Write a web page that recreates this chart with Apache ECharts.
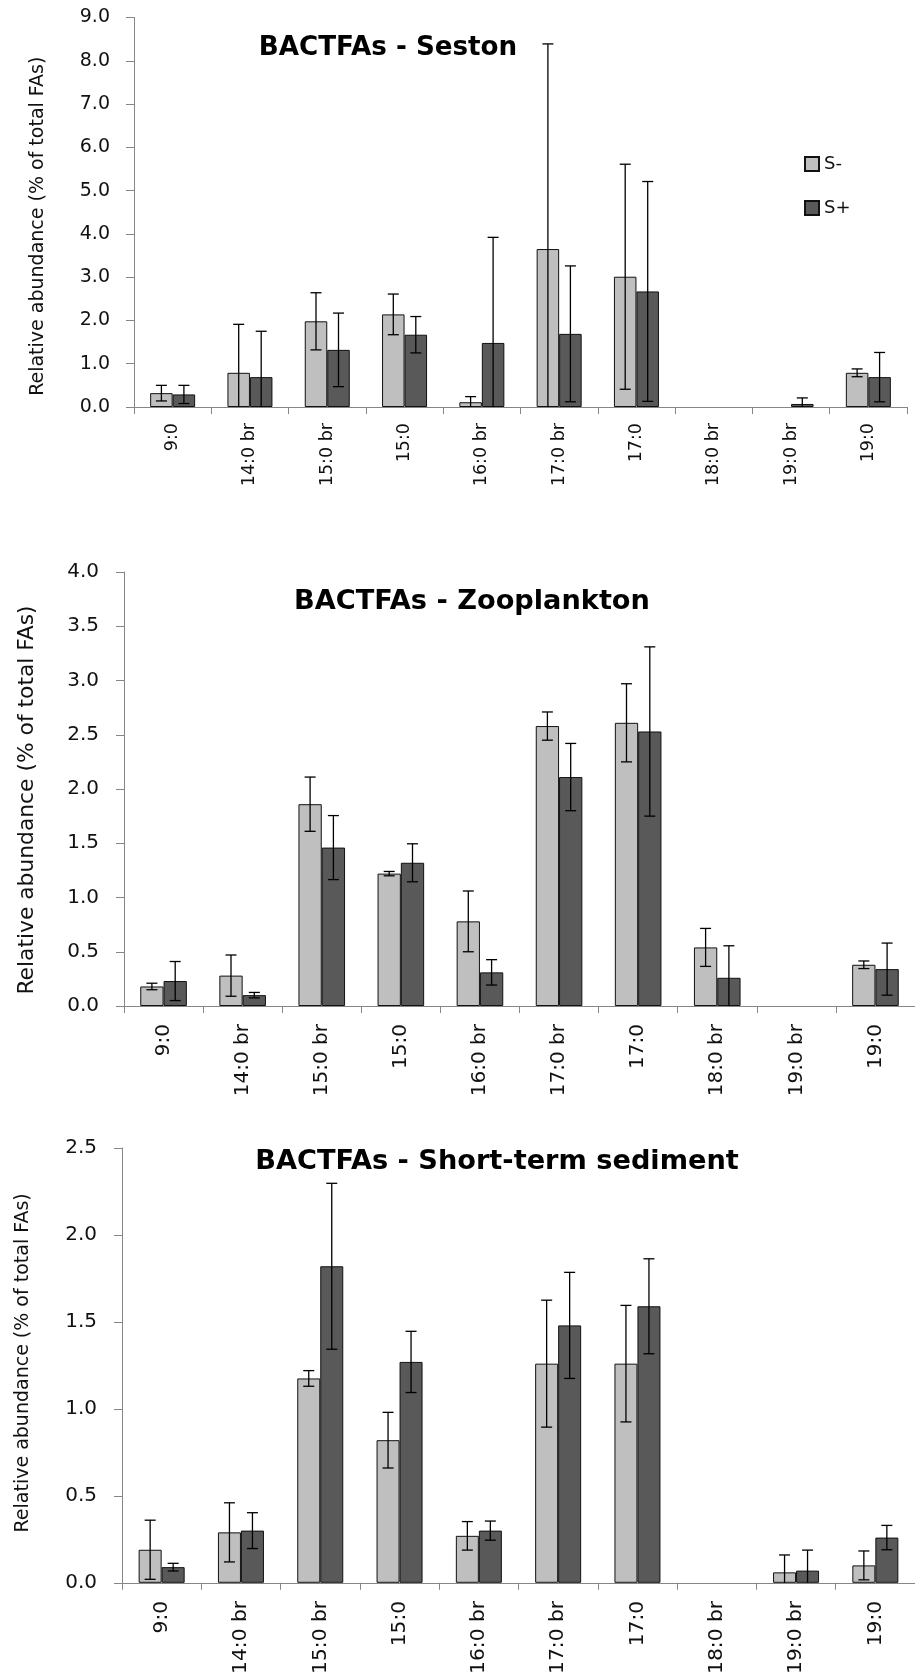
<!DOCTYPE html>
<html>
<head>
<meta charset="utf-8">
<script src="https://cdn.jsdelivr.net/npm/echarts@6/dist/echarts.min.js"></script>
<style>
html,body{margin:0;padding:0;background:#fff;}
#chart{width:915px;height:1677px;}
</style>
</head>
<body>
<div id="chart"></div>
<script>
// ---- data ----
const categories = ['9:0','14:0 br','15:0 br','15:0','16:0 br','17:0 br','17:0','18:0 br','19:0 br','19:0'];
const seriesNames = ['S-','S+'];

const sestonSminus    = [0.32, 0.79, 1.98, 2.14, 0.11, 3.65, 3.01, null, null, 0.79];
const sestonSminusErr = [0.18, 1.12, 0.66, 0.47, 0.13, 4.74, 2.60, null, null, 0.09];
const sestonSplus     = [0.29, 0.69, 1.32, 1.67, 1.48, 1.69, 2.67, null, 0.07, 0.69];
const sestonSplusErr  = [0.21, 1.06, 0.85, 0.42, 2.44, 1.57, 2.54, null, 0.14, 0.57];

const zooSminus    = [0.18, 0.28, 1.86, 1.22, 0.78, 2.58, 2.61, 0.54, null, 0.38];
const zooSminusErr = [0.03, 0.19, 0.25, 0.02, 0.28, 0.13, 0.36, 0.175, null, 0.035];
const zooSplus     = [0.23, 0.10, 1.46, 1.32, 0.31, 2.11, 2.53, 0.26, null, 0.34];
const zooSplusErr  = [0.18, 0.025, 0.295, 0.175, 0.117, 0.31, 0.78, 0.295, null, 0.24];

const sedSminus    = [0.19, 0.29, 1.175, 0.82, 0.27, 1.26, 1.26, null, 0.06, 0.10];
const sedSminusErr = [0.17, 0.17, 0.045, 0.16, 0.082, 0.365, 0.335, null, 0.10, 0.083];
const sedSplus     = [0.09, 0.30, 1.82, 1.27, 0.30, 1.48, 1.59, null, 0.07, 0.26];
const sedSplusErr  = [0.022, 0.103, 0.477, 0.176, 0.055, 0.305, 0.273, null, 0.118, 0.07];

const titles = ['BACTFAs - Seston', 'BACTFAs - Zooplankton', 'BACTFAs - Short-term sediment'];
const yAxisName = 'Relative abundance (% of total FAs)';
const yMax = [9, 4, 2.5];
const yInterval = [1, 0.5, 0.5];

// ---- styling / layout ----
const FONT = '"DejaVu Sans", sans-serif';
const colors = ['#bfbfbf', '#595959'];
const panels = [
  {grid:{left:134, top:17.5, width:773, height:389.5}, bw:22.5, tick:19, tickMargin:24, xl:17.5, xlMargin:16,
   nameSize:19, nameGap:86, namePad:[0,28,0,0], title:{x:388, y:48, size:26.2}},
  {grid:{left:124, top:572, width:797, height:434}, bw:23.3, tick:20, tickMargin:25, xl:20, xlMargin:18,
   nameSize:21.8, nameGap:86, namePad:[0,22,0,0], title:{x:472, y:602, size:27.2}},
  {grid:{left:122, top:1148, width:802, height:436}, bw:23, tick:20, tickMargin:25, xl:20.3, xlMargin:18,
   nameSize:19, nameGap:89, namePad:[0,0,0,5], title:{x:497, y:1162, size:27.2}}
];
const panelData = [
  [[sestonSminus, sestonSminusErr], [sestonSplus, sestonSplusErr]],
  [[zooSminus, zooSminusErr], [zooSplus, zooSplusErr]],
  [[sedSminus, sedSminusErr], [sedSplus, sedSplusErr]]
];

function errRenderer(sign, bw) {
  return function (params, api) {
    const i = api.value(0), v = api.value(1), e = api.value(2);
    const top = api.coord([i, v + e]);
    const low = v - e;
    const bot = api.coord([i, Math.max(0, low)]);
    const x = top[0] + sign * bw / 2;
    const cap = 5.5;
    const st = {stroke:'#000', lineWidth:1.3};
    const children = [
      {type:'line', shape:{x1:x, y1:top[1], x2:x, y2:bot[1]}, style:st},
      {type:'line', shape:{x1:x-cap, y1:top[1], x2:x+cap, y2:top[1]}, style:st}
    ];
    if (low > 0) children.push({type:'line', shape:{x1:x-cap, y1:bot[1], x2:x+cap, y2:bot[1]}, style:st});
    return {type:'group', children};
  };
}

const grids = [], xAxes = [], yAxes = [], series = [], graphics = [];
panels.forEach((p, k) => {
  grids.push(Object.assign({containLabel:false}, p.grid));
  xAxes.push({
    type:'category', gridIndex:k, data:categories, boundaryGap:true,
    axisLine:{lineStyle:{color:'#868686', width:1}},
    axisTick:{show:true, length:7, interval:0, lineStyle:{color:'#868686'}},
    axisLabel:{interval:0, rotate:90, margin:p.xlMargin, color:'#111', fontFamily:FONT, fontSize:p.xl},
    splitLine:{show:false}
  });
  yAxes.push({
    type:'value', gridIndex:k, min:0, max:yMax[k], interval:yInterval[k],
    name:yAxisName, nameLocation:'middle', nameGap:p.nameGap,
    nameTextStyle:{color:'#111', fontFamily:FONT, fontSize:p.nameSize, padding:p.namePad},
    axisLine:{show:true, lineStyle:{color:'#868686', width:1}},
    axisTick:{show:true, length:8, lineStyle:{color:'#868686'}},
    axisLabel:{margin:p.tickMargin, color:'#111', fontFamily:FONT, fontSize:p.tick, formatter:v => v.toFixed(1)},
    splitLine:{show:false}
  });
  panelData[k].forEach((pair, s) => {
    const vals = pair[0], errs = pair[1];
    series.push({
      name:seriesNames[s], type:'bar', xAxisIndex:k, yAxisIndex:k,
      data:vals.map(v => v == null ? '-' : v),
      barWidth:p.bw, barGap:'0%',
      itemStyle:{color:colors[s], borderColor:'#111', borderWidth:1},
      emphasis:{disabled:true}, animation:false, z:2
    });
    const errData = [];
    vals.forEach((v, i) => { if (v != null && errs[i] != null) errData.push([i, v, errs[i]]); });
    series.push({
      type:'custom', xAxisIndex:k, yAxisIndex:k, data:errData,
      encode:{x:0, y:1}, renderItem:errRenderer(s === 0 ? -1 : 1, p.bw),
      animation:false, z:5, silent:true
    });
  });
  graphics.push({
    type:'text', x:p.title.x, y:p.title.y,
    style:{text:titles[k], fill:'#000', fontFamily:FONT, fontWeight:'bold', fontSize:p.title.size,
           align:'center', verticalAlign:'middle', textAlign:'center', textVerticalAlign:'middle'}
  });
});

const chart = echarts.init(document.getElementById('chart'), null, {renderer:'canvas'});
chart.setOption({
  backgroundColor:'#fff',
  animation:false,
  grid:grids, xAxis:xAxes, yAxis:yAxes, series:series, graphic:graphics,
  legend:{
    data:seriesNames, orient:'vertical', left:804, top:154, padding:0,
    itemWidth:14, itemHeight:14, itemGap:24, icon:'rect',
    textStyle:{color:'#111', fontFamily:FONT, fontSize:18, lineHeight:20}
  }
});
</script>
</body>
</html>
